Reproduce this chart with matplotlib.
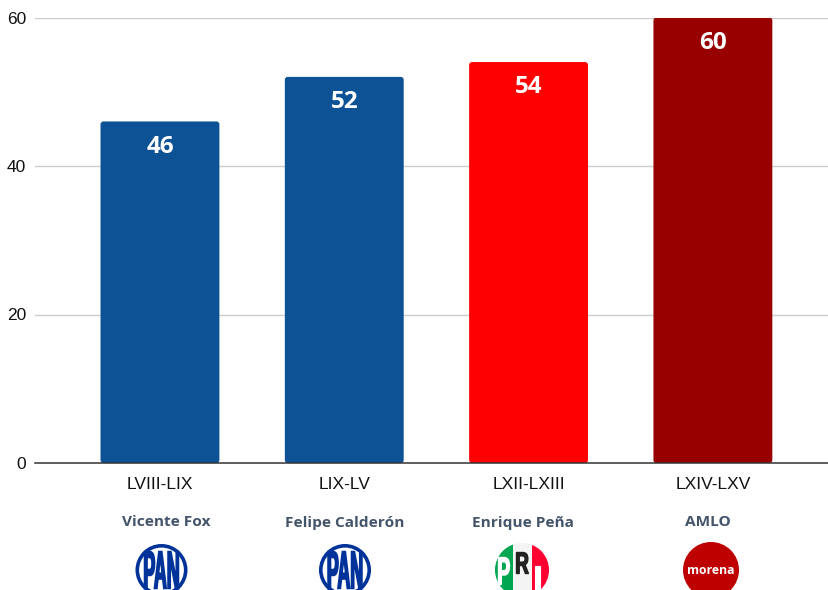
import matplotlib
matplotlib.use("Agg")
import matplotlib.pyplot as plt
from matplotlib.patches import Circle, FancyBboxPatch, PathPatch, Rectangle
from matplotlib.textpath import TextPath
from matplotlib.font_manager import FontProperties
from matplotlib.transforms import Affine2D

periods = ["LVIII-LIX", "LIX-LV", "LXII-LXIII", "LXIV-LXV"]
values = [46, 52, 54, 60]
bar_colors = ["#0D5295", "#0D5295", "#FF0000", "#980000"]
presidents = ["Vicente Fox", "Felipe Calderón", "Enrique Peña", "AMLO"]
yticks = [0, 20, 40, 60]

W, H = 829, 590
fig = plt.figure(figsize=(W / 100, H / 100), dpi=100)
ax = fig.add_axes([35 / W, (H - 463) / H, (W - 35) / W, (463 - 17.5) / H])
ax.set_xlim(-0.678, 3.63)
ax.set_ylim(0, 60)

x_pos = list(range(len(values)))
bars = ax.bar(x_pos, values, width=0.645, color="none", linewidth=0, zorder=2)

# swap the square bars for slightly rounded ones
aspect = (60 / 445.5) / (4.308 / 794)
for rect, col in zip(bars, bar_colors):
    box = FancyBboxPatch((rect.get_x(), 0), rect.get_width(), rect.get_height(),
                         boxstyle="round,pad=0,rounding_size=0.016",
                         mutation_aspect=aspect, fc=col, ec="none", zorder=2)
    ax.add_patch(box)

for x, v in zip(x_pos, values):
    ax.text(x, v - 3.4, str(v), color="white", ha="center", va="center",
            fontsize=17.5, fontweight="bold", family="Open Sans", zorder=3)

ax.set_yticks(yticks)
ax.set_xticks(x_pos)
ax.set_xticklabels(periods)
ax.tick_params(axis="both", length=0, colors="#111111")
ax.tick_params(axis="x", pad=10, labelsize=12.5)
ax.tick_params(axis="y", pad=6.5, labelsize=12.5)
for lab in ax.get_xticklabels() + ax.get_yticklabels():
    lab.set_family("Liberation Sans")
ax.grid(axis="y", color="#CCCCCC", linewidth=1)
ax.set_axisbelow(True)
for s in ["top", "left", "right"]:
    ax.spines[s].set_visible(False)
ax.spines["bottom"].set_color("#333333")
ax.spines["bottom"].set_linewidth(1.1)
ax.spines["bottom"].set_zorder(4)

# overlay in pixel coordinates for the names and party logos
ov = fig.add_axes([0, 0, 1, 1], facecolor="none")
ov.set_xlim(0, W)
ov.set_ylim(H, 0)
ov.axis("off")

name_x = [166, 345, 523, 708]
for x, name in zip(name_x, presidents):
    ov.text(x, 522.5, name, ha="center", va="center", fontsize=11.1,
            fontweight="bold", family="Open Sans", color="#44546A")


def logo_text(s, cx, cy, width, height, color, lw=0.0):
    # letters squeezed into a given box, y flipped for the overlay
    tp = TextPath((0, 0), s, size=10, prop=FontProperties(family="Liberation Sans", weight="bold"))
    bb = tp.get_extents()
    tr = (Affine2D().translate(-bb.x0 - bb.width / 2, -bb.y0 - bb.height / 2)
          .scale(width / bb.width, -height / bb.height).translate(cx, cy))
    ov.add_patch(PathPatch(tr.transform_path(tp), fc=color, ec=color, lw=lw, zorder=5))


def pan_logo(cx):
    ov.add_patch(Circle((cx, 570), 24.2, fc="white", ec="#003399", lw=2.6))
    logo_text("PAN", cx, 570, 34, 37, "#003399", lw=1.1)


pan_logo(161.5)
pan_logo(345)

# PRI
pri_clip = Circle((522, 570), 27, transform=ov.transData)
for x0, w, col in [(495, 18, "#00A650"), (513, 19, "#F4F4F4"), (532, 17, "#FF0033")]:
    stripe = Rectangle((x0, 543), w, 54, fc=col, ec="none", zorder=3)
    ov.add_patch(stripe)
    stripe.set_clip_path(pri_clip)
logo_text("P", 504, 571, 11, 27, "white", lw=1.0)
logo_text("R", 522.5, 563, 12, 21, "#222222", lw=1.0)
logo_text("I", 538, 578, 5, 25, "white", lw=0.8)

# morena
ov.add_patch(Circle((711, 570), 28, fc="#BE0000", ec="none"))
ov.text(711, 570.5, "morena", color="white", ha="center", va="center",
        fontsize=8.8, fontweight="bold", family="Open Sans", zorder=5)

fig.savefig("out.png", dpi=100)
